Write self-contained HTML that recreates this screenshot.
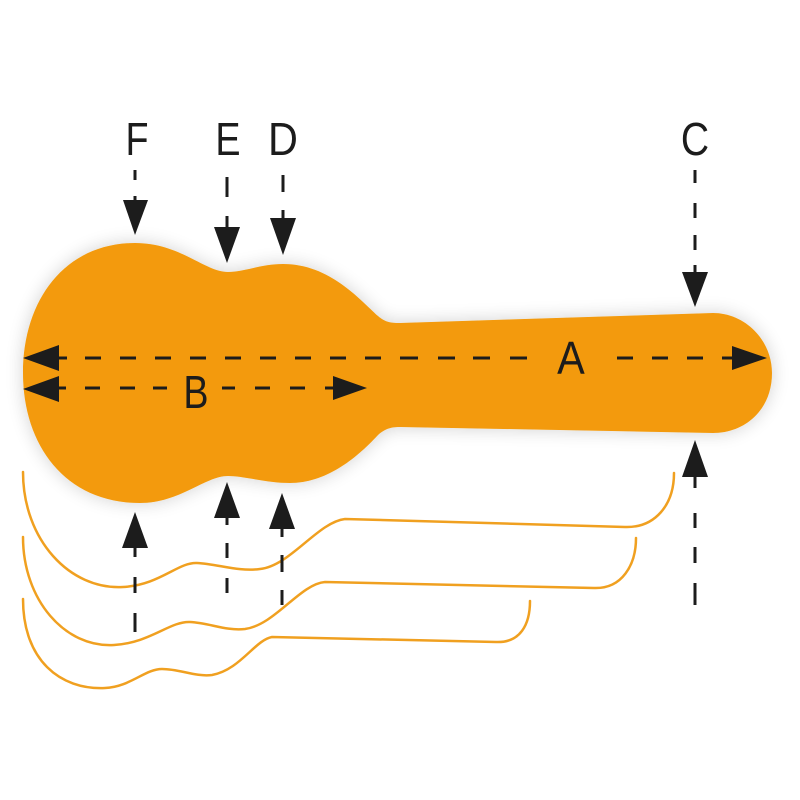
<!DOCTYPE html>
<html><head><meta charset="utf-8"><style>
html,body{margin:0;padding:0;background:#fff;}
svg{display:block;}
text{font-family:"Liberation Sans",sans-serif;fill:#1c1c1c;}
</style></head><body>
<svg width="800" height="800" viewBox="0 0 800 800" xmlns="http://www.w3.org/2000/svg">
<defs>
<filter id="sh" x="-20%" y="-30%" width="140%" height="160%">
<feGaussianBlur in="SourceAlpha" stdDeviation="9"/>
<feComponentTransfer><feFuncA type="linear" slope="0.18"/></feComponentTransfer>
<feMerge><feMergeNode/><feMergeNode in="SourceGraphic"/></feMerge>
</filter>
</defs>
<rect width="800" height="800" fill="#fff"/>

<!-- guitar case -->
<path filter="url(#sh)" fill="#F39A0A" d="
M 23 373
C 23 300, 65 243, 135 243
C 180 243, 205 272, 228 272
C 245 272, 260 264, 283 264
C 330 264, 360 300, 378 316
C 385 322, 390 323, 400 323
L 713 313
C 745 313, 772 340, 772 373
C 772 410, 745 433, 713 433
L 400 427
C 390 427, 385 429, 378 435
C 355 460, 325 483, 290 483
C 265 483, 245 476, 228 476
C 205 476, 180 503, 140 503
C 65 503, 23 445, 23 373 Z"/>

<!-- outline curves -->
<g fill="none" stroke="#F0A020" stroke-width="2.5" stroke-linecap="round">
<path d="M 23 472 C 23 540, 70 590, 123 587 C 160 585, 178 562, 197 563 C 218 564, 238 572, 260 569 C 290 566, 318 522, 345 519 L 625 527 C 655 528, 674 505, 674 473"/>
<path d="M 23 537 C 23 600, 65 648, 114 645 C 150 643, 170 621, 190 622 C 210 623, 225 631, 245 629 C 275 625, 300 584, 325 582 L 594 588 C 622 589, 636 565, 636 538"/>
<path d="M 23 599 C 23 660, 60 690, 105 688 C 130 687, 145 669, 162 669 C 180 669, 195 677, 212 675 C 240 670, 255 640, 272 637 L 496 642 C 520 643, 530 625, 530 601"/>
</g>

<!-- dashed lines -->
<g stroke="#1c1c1c" stroke-width="3" fill="none">
<path d="M 58 358 H 67 M 85 358 H 101 M 120 358 H 136 M 155 358 H 171 M 190 358 H 206 M 225 358 H 241 M 260 358 H 276 M 295 358 H 311 M 330 358 H 346 M 365 358 H 381 M 400 358 H 418 M 438 358 H 455 M 473 358 H 490 M 510 358 H 527 M 617 358 H 633 M 652 358 H 668 M 687 358 H 703 M 722 358 H 734"/>
<path d="M 58 388 H 66 M 85 388 H 100 M 120 388 H 135 M 153 388 H 167 M 222 388 H 235 M 255 388 H 270 M 290 388 H 305 M 325 388 H 335"/>
<path d="M 135 170 V 180 M 135 196 V 201"/>
<path d="M 227 177 V 197 M 227 216 V 228"/>
<path d="M 283 175 V 192 M 283 210 V 219"/>
<path d="M 695 170 V 183 M 695 203 V 218 M 695 235 V 250 M 695 265 V 273"/>
<path d="M 695 476 V 488 M 695 513 V 528 M 695 547 V 563 M 695 583 V 605"/>
<path d="M 135 547 V 557 M 135 577 V 593 M 135 613 V 632"/>
<path d="M 227 517 V 525 M 227 543 V 558 M 227 578 V 593"/>
<path d="M 282 528 V 537 M 282 555 V 572 M 282 590 V 605"/>
</g>

<!-- arrowheads -->
<g fill="#1c1c1c">
<polygon points="23,358 59,345 59,371"/>
<polygon points="767,358 732,346 732,370"/>
<polygon points="23,389 59,376 59,402"/>
<polygon points="367,388 333,376 333,400"/>
<polygon points="135,235 123,200 148,200"/>
<polygon points="227,263 214,227 240,227"/>
<polygon points="283,255 270,218 296,218"/>
<polygon points="695,307 682,272 708,272"/>
<polygon points="695,440 682,477 708,477"/>
<polygon points="135,512 122,548 148,548"/>
<polygon points="227,482 214,518 240,518"/>
<polygon points="282,493 269,529 295,529"/>
</g>

<!-- labels -->
<g font-size="46" text-anchor="middle">
<text x="137" y="155" transform="translate(137 0) scale(0.82 1) translate(-137 0)">F</text>
<text x="228" y="155" transform="translate(228 0) scale(0.82 1) translate(-228 0)">E</text>
<text x="283" y="155" transform="translate(283 0) scale(0.9 1) translate(-283 0)">D</text>
<text x="695" y="155" transform="translate(695 0) scale(0.85 1) translate(-695 0)">C</text>
<text x="571" y="374" transform="translate(571 0) scale(0.9 1) translate(-571 0)">A</text>
<text x="196" y="408" transform="translate(196 0) scale(0.82 1) translate(-196 0)">B</text>
</g>
</svg>
</body></html>
